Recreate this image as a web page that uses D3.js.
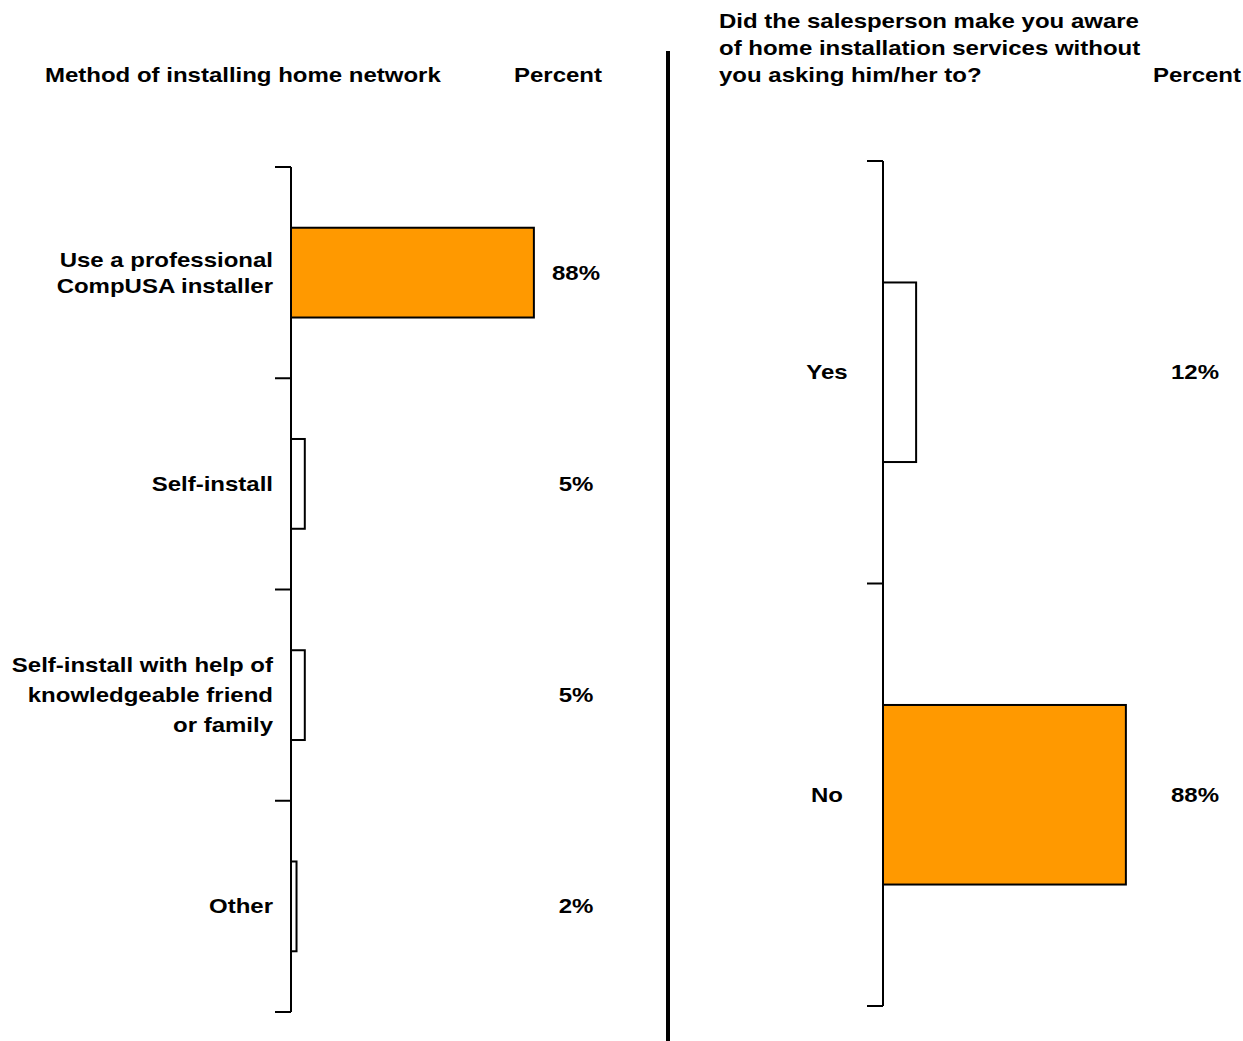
<!DOCTYPE html>
<html>
<head>
<meta charset="utf-8">
<script src="https://cdn.jsdelivr.net/npm/d3@7"></script>
<style>
  html, body { margin: 0; padding: 0; background: #fff; }
  svg { display: block; }
  text { font-family: "Liberation Sans", Arial, sans-serif; font-weight: bold; fill: #000; }
</style>
</head>
<body>
<svg id="chart" width="1243" height="1041"></svg>
<script>
// Left panel: how the home network was installed
const methodCategories = [
  ["Use a professional", "CompUSA installer"],
  ["Self-install"],
  ["Self-install with help of", "knowledgeable friend", "or family"],
  ["Other"]
];
const methodValues = [88, 5, 5, 2];

// Right panel: was the salesperson proactive about installation services
const awareCategories = [["Yes"], ["No"]];
const awareValues = [12, 88];

const methodTitle = ["Method of installing home network"];
const awareTitle = ["Did the salesperson make you aware", "of home installation services without", "you asking him/her to?"];
const valueHeader = "Percent";

const svg = d3.select("#chart");
const ORANGE = "#FF9900";
const FONT = 20, STRETCH = 1.2, LINE = 26;

// Bold text, slightly widened horizontally
function label(g, x, y, lines, anchor, lineGap) {
  const gap = lineGap || LINE;
  const n = lines.length;
  lines.forEach((s, i) => {
    g.append("text")
      .attr("transform", `translate(${x},${y + (i - (n - 1) / 2) * gap}) scale(${STRETCH},1)`)
      .attr("text-anchor", anchor)
      .attr("dy", "0.35em")
      .attr("font-size", FONT)
      .text(s);
  });
}

function panel(opts) {
  const g = svg.append("g");
  const keys = opts.categories.map((_, i) => i);
  const y = d3.scaleBand().domain(keys).range(opts.yRange).paddingInner(0).paddingOuter(0);
  const x = d3.scaleLinear().domain([0, 100]).range([opts.x0, opts.x0 + 276]);
  const maxV = d3.max(opts.values);
  const barH = y.bandwidth() * 0.425;

  // bars
  g.selectAll("rect.bar").data(opts.values).join("rect")
    .attr("class", "bar")
    .attr("x", x(0))
    .attr("y", (d, i) => y(i) + (y.bandwidth() - barH) / 2)
    .attr("width", d => x(d) - x(0))
    .attr("height", barH)
    .attr("fill", d => d === maxV ? ORANGE : "#fff")
    .attr("stroke", "#000")
    .attr("stroke-width", 2);

  // category axis with ticks on band boundaries
  const bounds = keys.map(k => y(k)).concat([opts.yRange[1]]);
  g.append("line")
    .attr("x1", x(0)).attr("x2", x(0))
    .attr("y1", opts.yRange[0]).attr("y2", opts.yRange[1])
    .attr("stroke", "#000").attr("stroke-width", 2);
  g.selectAll("line.tick").data(bounds).join("line")
    .attr("class", "tick")
    .attr("x1", x(0) - 16).attr("x2", x(0))
    .attr("y1", d => d).attr("y2", d => d)
    .attr("stroke", "#000").attr("stroke-width", 2);

  // category labels
  opts.categories.forEach((lines, i) => {
    label(g, opts.catX, y(i) + y.bandwidth() / 2, lines, opts.catAnchor, lines.length > 2 ? 30 : LINE);
  });

  // value labels
  opts.values.forEach((v, i) => {
    label(g, opts.valX, y(i) + y.bandwidth() / 2, [v + "%"], "middle");
  });

  // headers
  opts.title.forEach((s, i) => {
    g.append("text")
      .attr("transform", `translate(${opts.titleX},${82 - (opts.title.length - 1 - i) * 27}) scale(${STRETCH},1)`)
      .attr("font-size", FONT)
      .text(s);
  });
  g.append("text")
    .attr("transform", `translate(${opts.pctX},82) scale(${STRETCH},1)`)
    .attr("font-size", FONT)
    .text(valueHeader);
}

panel({
  categories: methodCategories, values: methodValues,
  yRange: [167, 1012], x0: 291,
  catX: 273, catAnchor: "end", valX: 576,
  title: methodTitle, titleX: 45, pctX: 514
});

panel({
  categories: awareCategories, values: awareValues,
  yRange: [161, 1006], x0: 883,
  catX: 827, catAnchor: "middle", valX: 1195,
  title: awareTitle, titleX: 719, pctX: 1153
});

// divider between the two panels
svg.append("line")
  .attr("x1", 668).attr("x2", 668)
  .attr("y1", 51).attr("y2", 1041)
  .attr("stroke", "#000").attr("stroke-width", 4);
</script>
</body>
</html>
